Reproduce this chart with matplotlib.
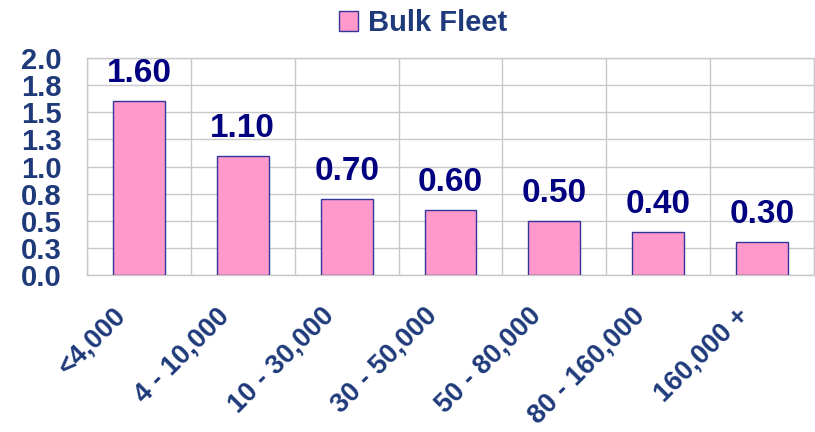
import matplotlib
matplotlib.use("Agg")
import matplotlib.pyplot as plt
import matplotlib.transforms as mtransforms
import numpy as np

categories = ["<4,000", "4 - 10,000", "10 - 30,000", "30 - 50,000",
              "50 - 80,000", "80 - 160,000", "160,000 +"]
values = [1.60, 1.10, 0.70, 0.60, 0.50, 0.40, 0.30]
yticks = [0.0, 0.25, 0.5, 0.75, 1.0, 1.25, 1.5, 1.75, 2.0]
ytick_labels = ["0.0", "0.3", "0.5", "0.8", "1.0", "1.3", "1.5", "1.8", "2.0"]

plt.rcParams['font.family'] = ['Liberation Sans', 'DejaVu Sans']

axis_blue = "#1F3A7A"
label_navy = "#000080"

fig = plt.figure(figsize=(8.15, 4.32), dpi=100)
ax = fig.add_axes([87/815, 1 - 275/432, 727/815, (275 - 58)/432])

x = np.arange(len(categories))
bars = ax.bar(x, values, width=0.5, color="#FF99CC", edgecolor="#333399",
              linewidth=1.0, label="Bulk Fleet", zorder=3)

for xi, v in zip(x, values):
    ax.text(xi, v + 0.175, f"{v:.2f}", ha="center", va="baseline",
            fontsize=24, fontweight="bold", color=label_navy, zorder=4)

ax.set_xlim(-0.5, len(categories) - 0.5)
ax.set_ylim(0, 2.0)
ax.set_yticks(yticks)
ax.set_yticklabels(ytick_labels, fontsize=21, fontweight="bold", color=axis_blue)
ax.set_xticks(x)
ax.set_xticklabels(categories, fontsize=19.5, fontweight="bold", color=axis_blue,
                   rotation=45, ha="right", va="center", rotation_mode="anchor")
ax.tick_params(axis="y", length=0, pad=18)
ax.tick_params(axis="x", length=0, pad=0)
shift = mtransforms.ScaledTranslation(-0.17, -0.37, fig.dpi_scale_trans)
for lbl in ax.get_xticklabels():
    lbl.set_transform(lbl.get_transform() + shift)

# vertical gridlines between categories, horizontal at ticks
ax.set_xticks(np.arange(-0.5, len(categories)), minor=True)
ax.grid(axis="y", which="major", color="#C8C8C8", linewidth=1.0, zorder=0)
ax.grid(axis="x", which="minor", color="#C8C8C8", linewidth=1.0, zorder=0)
ax.tick_params(axis="x", which="minor", length=0)
for s in ax.spines.values():
    s.set_color("#C8C8C8")
    s.set_linewidth(1.0)

fig.legend(handles=[bars], labels=["Bulk Fleet"], loc="upper center",
           bbox_to_anchor=(0.519, 1.039), frameon=False, handlelength=0.65,
           handleheight=0.65, handletextpad=0.35,
           prop={"size": 21, "weight": "bold"}, labelcolor=axis_blue)

fig.savefig("out.png", dpi=100)
